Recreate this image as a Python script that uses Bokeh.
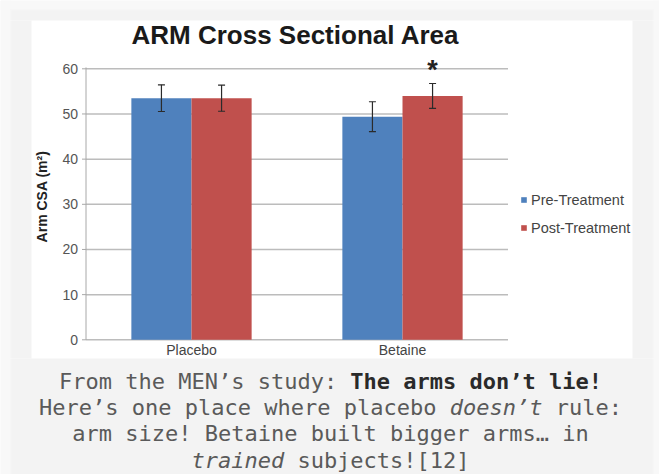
import math
from bokeh.plotting import figure
from bokeh.models import (Range1d, ColumnDataSource, Label, BoxAnnotation,
                          Legend, LegendItem)
from bokeh.core.properties import value
from bokeh.embed import file_html
from bokeh.resources import INLINE

# ---------------- data ----------------
categories = ["Placebo", "Betaine"]
series = ["Pre-Treatment", "Post-Treatment"]
pre_values = [53.5, 49.4]
post_values = [53.5, 54.0]
pre_errors = [2.95, 3.3]
post_errors = [2.9, 2.75]
y_ticks = [0, 10, 20, 30, 40, 50, 60]
significant_post = [False, True]
title_text = "ARM Cross Sectional Area"
y_label = "Arm CSA (m²)"
caption_lines = [
    [("From the MEN’s study: ", "normal"), ("The arms don’t lie!", "bold")],
    [("Here’s one place where placebo ", "normal"), ("doesn’t", "italic"), (" rule:", "normal")],
    [("arm size! Betaine built bigger arms… in", "normal")],
    [("trained", "italic"), (" subjects![12]", "normal")],
]

# ---------------- layout constants (canvas px) ----------------
W, H = 659, 474
X_LEFT_PX, X_RIGHT_PX = 85.5, 507.5      # plot area left / right (category axis 0 .. n)
Y_ZERO_PX, Y_TOP_PX = 339.3, 68.3        # pixel rows of y = 0 and y = max tick
BLUE = "#4F81BD"
RED = "#C0504D"
PAGE = "#f8f8f8"
BOX = "#f3f3f3"

ncat = len(categories)
ymax = y_ticks[-1]
xpu = (X_RIGHT_PX - X_LEFT_PX) / ncat
ypu = (Y_ZERO_PX - Y_TOP_PX) / ymax
x_range = Range1d(-X_LEFT_PX / xpu, ncat + (W - X_RIGHT_PX) / xpu)
y_range = Range1d(-(H - Y_ZERO_PX) / ypu, Y_ZERO_PX / ypu)


def sx(cx):
    return cx


def sy(cy):
    return H - cy


p = figure(width=W, height=H, x_range=x_range, y_range=y_range,
           output_backend="svg", toolbar_location=None, title=None,
           x_axis_location=None, y_axis_location=None, min_border=0,
           border_fill_color="white", background_fill_color="white",
           outline_line_color=None)
p.xgrid.visible = False
p.ygrid.visible = False

bw = 0.285
centers = [i + 0.5 for i in range(ncat)]
src = ColumnDataSource(dict(
    cat=categories,
    xc=centers,
    base=[0] * ncat,
    xpre=[c - bw / 2 for c in centers],
    xpost=[c + bw / 2 for c in centers],
    pre=pre_values, post=post_values,
    pre_lo=[v - e for v, e in zip(pre_values, pre_errors)],
    pre_hi=[v + e for v, e in zip(pre_values, pre_errors)],
    post_lo=[v - e for v, e in zip(post_values, post_errors)],
    post_hi=[v + e for v, e in zip(post_values, post_errors)],
))

# gridlines
tick_src = ColumnDataSource(dict(y=y_ticks, label=[str(t) for t in y_ticks],
                                 x0=[0] * len(y_ticks), x1=[ncat] * len(y_ticks),
                                 xt=[-4 / xpu] * len(y_ticks)))
p.segment(x0="x0", y0="y", x1="x1", y1="y", source=tick_src,
          line_color="#bcbcbc", line_width=1.5)

r_pre = p.vbar(x="xpre", top="pre", bottom=0, width=bw, source=src,
               fill_color=BLUE, line_color=None)
r_post = p.vbar(x="xpost", top="post", bottom=0, width=bw, source=src,
                fill_color=RED, line_color=None)

ERR = "#2b2b2b"
for xx, lo, hi in [("xpre", "pre_lo", "pre_hi"), ("xpost", "post_lo", "post_hi")]:
    p.segment(x0=xx, y0=lo, x1=xx, y1=hi, source=src, line_color=ERR, line_width=1.2)
    p.scatter(x=xx, y=hi, source=src, marker="dash", size=7, line_color=ERR, line_width=1.2)
    p.scatter(x=xx, y=lo, source=src, marker="dash", size=7, line_color=ERR, line_width=1.2)

# y axis: line, ticks, labels
p.segment(x0=[0], y0=[y_ticks[0]], x1=[0], y1=[y_ticks[-1] + 0.3],
          line_color="#a8a8a8", line_width=1)
p.segment(x0="xt", y0="y", x1="x0", y1="y", source=tick_src,
          line_color="#a8a8a8", line_width=1)
p.text(x="xt", y="y", text="label", source=tick_src, x_offset=-4,
       text_font=value("Liberation Sans"), text_font_size="14px",
       text_color="#555555", text_align="right", text_baseline="middle")

# category labels
p.text(x="xc", y="base", text="cat", source=src, y_offset=2,
       text_font=value("Liberation Sans"), text_font_size="14px",
       text_color="#444444", text_align="center", text_baseline="top")

# significance asterisk above the Betaine post-treatment bar
for i, sig in enumerate(significant_post):
    if sig:
        p.add_layout(Label(x=centers[i] + bw / 2, x_units="data",
                           y=ymax, y_units="data", y_offset=-1.5, text="*",
                           text_font="Liberation Sans", text_font_style="bold",
                           text_font_size="27px", text_color="#222222",
                           text_align="center", text_baseline="middle"))

# legend
legend = Legend(items=[LegendItem(label=series[0], renderers=[r_pre]),
                       LegendItem(label=series[1], renderers=[r_post])],
                location=(sx(520), sy(236)), orientation="vertical",
                glyph_width=7, glyph_height=7, label_standoff=4, spacing=11,
                label_height=17, padding=0, margin=0,
                border_line_color=None, background_fill_alpha=0,
                label_text_font="Liberation Sans", label_text_font_size="14.5px",
                label_text_color="#444444")
p.add_layout(legend)

# title & y label  (text_baseline "middle": y is the visual centre of the line)
p.add_layout(Label(x=sx(295), y=sy(34), x_units="screen", y_units="screen",
                   text=title_text, text_font="Liberation Sans", text_font_style="bold",
                   text_font_size="26px", text_color="#1a1a1a",
                   text_align="center", text_baseline="middle"))
p.add_layout(Label(x=sx(41.5), y=sy(196), x_units="screen", y_units="screen",
                   text=y_label, angle=math.pi / 2, text_font="Liberation Sans",
                   text_font_style="bold", text_font_size="14px", text_color="#222222",
                   text_align="center", text_baseline="middle"))


# page background strips around the white chart image
def box(l, r, t, b, color):
    p.add_layout(BoxAnnotation(left=sx(l), right=sx(r), top=sy(t), bottom=sy(b),
                               left_units="screen", right_units="screen",
                               top_units="screen", bottom_units="screen",
                               fill_color=color, fill_alpha=1.0, line_color=None,
                               level="annotation"))


box(0, W, 0, 20, BOX)
box(0, W, 358, H, BOX)
box(0, 31, 20, 358, BOX)
box(632, W, 20, 358, BOX)
box(0, W, 0, 9, PAGE)
box(0, 10, 0, H, PAGE)
box(653, W, 0, H, PAGE)
p.add_layout(BoxAnnotation(left=sx(10.5), right=sx(652.5), top=sy(9.5), bottom=sy(H + 5),
                           left_units="screen", right_units="screen",
                           top_units="screen", bottom_units="screen",
                           fill_alpha=0, line_color="white", line_width=1))

# caption (monospace, so every segment sits on a fixed character grid)
FS = 22
CW = 0.60205 * FS
line_centres = [380.5, 407, 433.3, 459.6]
cx_center = 330
for line, yc in zip(caption_lines, line_centres):
    n = sum(len(t) for t, _ in line)
    x0 = cx_center - n * CW / 2
    off = 0
    for t, style in line:
        lead = len(t) - len(t.lstrip())
        color = "#2a2a2a" if style == "bold" else "#5a5a5a"
        p.add_layout(Label(x=sx(x0 + (off + lead) * CW), y=sy(yc),
                           x_units="screen", y_units="screen",
                           text=t.strip(), text_font="DejaVu Sans Mono", text_font_style=style,
                           text_font_size=f"{FS}px", text_color=color,
                           text_align="left", text_baseline="middle"))
        off += len(t)

open("out.html", "w").write(file_html(p, INLINE))
